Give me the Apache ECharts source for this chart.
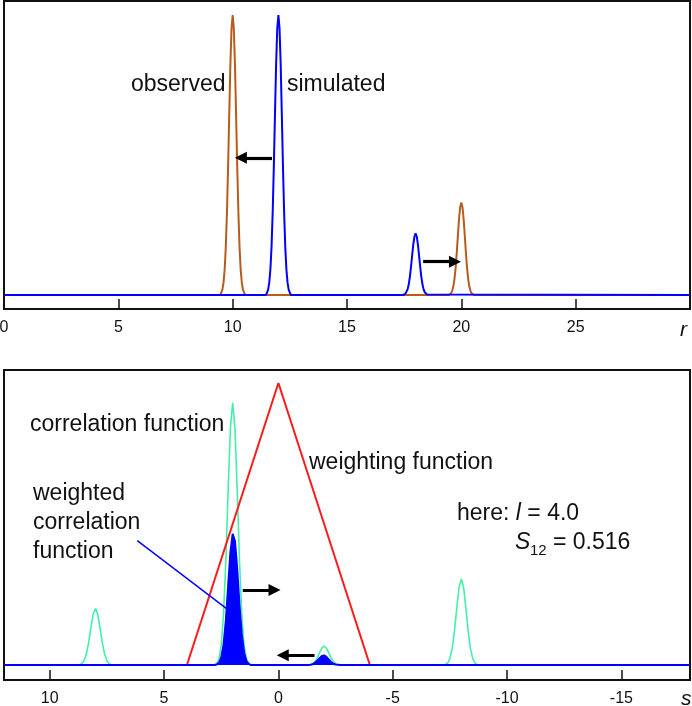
<!DOCTYPE html>
<html>
<head>
<meta charset="utf-8">
<script src="https://cdn.jsdelivr.net/npm/echarts@6/dist/echarts.min.js"></script>
<style>
html,body{margin:0;padding:0;background:#fff;}
#c{width:692px;height:706px;}
</style>
</head>
<body>
<div id="c"></div>
<script>
// ---------- data ----------
const rTicks = [0, 5, 10, 15, 20, 25];
const rTickMarks = [5, 10, 15, 20, 25];
const sTicks = [10, 5, 0, -5, -10, -15];

// top panel: observed (brown) and simulated (blue) distributions, [r, value]
const observed = [
  [0,0],[9.45,0],
  [9.5,0.008],[9.55,0.019],[9.6,0.044],[9.65,0.091],[9.7,0.172],[9.75,0.295],[9.8,0.458],[9.85,0.644],[9.9,0.823],[9.95,0.952],[10,1],
  [10.05,0.952],[10.1,0.823],[10.15,0.644],[10.2,0.458],[10.25,0.295],[10.3,0.172],[10.35,0.091],[10.4,0.044],[10.45,0.019],[10.5,0.008],
  [10.55,0],[19.45,0],
  [19.5,0.003],[19.55,0.006],[19.6,0.015],[19.65,0.030],[19.7,0.057],[19.75,0.097],[19.8,0.151],[19.85,0.213],[19.9,0.272],[19.95,0.314],[20,0.33],
  [20.05,0.314],[20.1,0.272],[20.15,0.213],[20.2,0.151],[20.25,0.097],[20.3,0.057],[20.35,0.030],[20.4,0.015],[20.45,0.006],[20.5,0.003],
  [20.55,0],[30,0]
];
const simulated = [
  [0,0],[11.45,0],
  [11.5,0.008],[11.55,0.019],[11.6,0.044],[11.65,0.091],[11.7,0.172],[11.75,0.295],[11.8,0.458],[11.85,0.644],[11.9,0.823],[11.95,0.952],[12,1],
  [12.05,0.952],[12.1,0.823],[12.15,0.644],[12.2,0.458],[12.25,0.295],[12.3,0.172],[12.35,0.091],[12.4,0.044],[12.45,0.019],[12.5,0.008],
  [12.55,0],[17.45,0],
  [17.5,0.002],[17.55,0.004],[17.6,0.010],[17.65,0.020],[17.7,0.038],[17.75,0.065],[17.8,0.101],[17.85,0.142],[17.9,0.181],[17.95,0.209],[18,0.22],
  [18.05,0.209],[18.1,0.181],[18.15,0.142],[18.2,0.101],[18.25,0.065],[18.3,0.038],[18.35,0.020],[18.4,0.010],[18.45,0.004],[18.5,0.002],
  [18.55,0],[30,0]
];

// bottom panel: correlation (green), weighting (red), weighted correlation (blue), [s, value]
const correlation = [
  [12,0],[8.8,0],
  [8.7,0.001],[8.6,0.005],[8.5,0.015],[8.4,0.038],[8.3,0.079],[8.2,0.132],[8.1,0.180],[8,0.20],
  [7.9,0.180],[7.8,0.132],[7.7,0.079],[7.6,0.038],[7.5,0.015],[7.4,0.005],[7.3,0.001],
  [7.2,0],[2.8,0],
  [2.7,0.006],[2.6,0.022],[2.5,0.071],[2.4,0.178],[2.3,0.367],[2.2,0.616],[2.1,0.839],[2,0.93],
  [1.9,0.839],[1.8,0.616],[1.7,0.367],[1.6,0.178],[1.5,0.071],[1.4,0.022],[1.3,0.006],
  [1.2,0],[-1.3,0],
  [-1.4,0.002],[-1.5,0.005],[-1.6,0.013],[-1.7,0.026],[-1.8,0.044],[-1.9,0.060],[-2,0.067],
  [-2.1,0.060],[-2.2,0.044],[-2.3,0.026],[-2.4,0.013],[-2.5,0.005],[-2.6,0.002],
  [-2.7,0],[-7.2,0],
  [-7.3,0.002],[-7.4,0.007],[-7.5,0.023],[-7.6,0.058],[-7.7,0.120],[-7.8,0.202],[-7.9,0.275],[-8,0.305],
  [-8.1,0.275],[-8.2,0.202],[-8.3,0.120],[-8.4,0.058],[-8.5,0.023],[-8.6,0.007],[-8.7,0.002],
  [-8.8,0],[-18,0]
];
const weighting = [[4,0],[0,1],[-4,0]];
const weighted = [
  [12,0],[2.8,0],
  [2.7,0.002],[2.6,0.008],[2.5,0.027],[2.4,0.071],[2.3,0.156],[2.2,0.277],[2.1,0.399],[2,0.465],
  [1.9,0.440],[1.8,0.339],[1.7,0.211],[1.6,0.107],[1.5,0.044],[1.4,0.014],[1.3,0.004],
  [1.2,0],[-1.3,0],
  [-1.4,0.001],[-1.5,0.003],[-1.6,0.008],[-1.7,0.015],[-1.8,0.024],[-1.9,0.032],[-2,0.034],
  [-2.1,0.029],[-2.2,0.020],[-2.3,0.011],[-2.4,0.005],[-2.5,0.002],[-2.6,0.001],
  [-2.7,0],[-18,0]
];

// annotation arrows / pointer (data coordinates)
const topArrows = [
  [[11.72, 0.49], [10.36, 0.49]],
  [[18.33, 0.119], [19.72, 0.119]]
];
const bottomArrows = [
  [[1.56, 0.266], [0.17, 0.266]],
  [[-1.58, 0.035], [-0.19, 0.035]]
];
const pointer = [[6.17, 0.441], [2.28, 0.201]];

// ---------- chart ----------
const FONT = '"Liberation Sans", Arial, Helvetica, sans-serif';
const TXT = '#111';
const BROWN = '#b85c1e';
const BLUE = '#0000ff';
const GREEN = '#44f0a8';
const RED = '#ff1a1a';

const chart = echarts.init(document.getElementById('c'), null, {renderer: 'canvas'});

function arrowLine(pairs) {
  return {
    silent: true,
    symbol: ['none', 'triangle'],
    symbolSize: [12, 12],
    label: {show: false},
    lineStyle: {color: '#000', width: 3.2, type: 'solid'},
    emphasis: {disabled: true},
    animation: false,
    data: pairs.map(p => [{coord: p[0]}, {coord: p[1]}])
  };
}

function xAxisCommon(extra) {
  return Object.assign({
    type: 'value',
    axisLine: {show: true, onZero: false, lineStyle: {color: '#111', width: 2}},
    splitLine: {show: false}
  }, extra);
}

const LABEL = {color: TXT, fontSize: 16, fontFamily: FONT, margin: 11};
const TICK = {show: true, inside: true, length: 10, lineStyle: {color: '#111', width: 1.5}};

const option = {
  animation: false,
  backgroundColor: '#fff',
  grid: [
    {left: 4, right: 2, top: 1, height: 308, show: true, borderColor: '#111', borderWidth: 2,
      backgroundColor: 'transparent', outerBoundsMode: 'none', containLabel: false},
    {left: 4, right: 2, top: 370, height: 310, show: true, borderColor: '#111', borderWidth: 2,
      backgroundColor: 'transparent', outerBoundsMode: 'none', containLabel: false}
  ],
  xAxis: [
    xAxisCommon({gridIndex: 0, min: 0, max: 30,
      axisTick: Object.assign({customValues: rTickMarks}, TICK),
      axisLabel: Object.assign({customValues: rTicks}, LABEL)}),
    xAxisCommon({gridIndex: 1, min: -18, max: 12, inverse: true,
      axisTick: Object.assign({customValues: sTicks}, TICK),
      axisLabel: Object.assign({customValues: sTicks}, LABEL)})
  ],
  yAxis: [
    {type: 'value', gridIndex: 0, min: -0.05, max: 1.05, show: false},
    {type: 'value', gridIndex: 1, min: -0.053, max: 1.046, show: false}
  ],
  series: [
    {type: 'line', xAxisIndex: 0, yAxisIndex: 0, data: observed, showSymbol: false, silent: true,
      lineStyle: {color: BROWN, width: 2}, z: 2, markLine: arrowLine(topArrows)},
    {type: 'line', xAxisIndex: 0, yAxisIndex: 0, data: simulated, showSymbol: false, silent: true,
      lineStyle: {color: BLUE, width: 2}, z: 3},
    {type: 'line', xAxisIndex: 1, yAxisIndex: 1, data: correlation, showSymbol: false, silent: true,
      lineStyle: {color: GREEN, width: 1.6}, z: 2},
    {type: 'line', xAxisIndex: 1, yAxisIndex: 1, data: weighting, showSymbol: false, silent: true,
      lineStyle: {color: RED, width: 2}, z: 3},
    {type: 'line', xAxisIndex: 1, yAxisIndex: 1, data: weighted, showSymbol: false, silent: true,
      lineStyle: {color: BLUE, width: 2}, areaStyle: {color: BLUE, opacity: 1}, z: 4,
      markLine: arrowLine(bottomArrows)},
    {type: 'line', xAxisIndex: 1, yAxisIndex: 1, data: pointer, showSymbol: false, silent: true,
      lineStyle: {color: BLUE, width: 1.5}, z: 5}
  ],
  graphic: [
    {type: 'text', x: 131, y: 85, style: {text: 'observed', font: '23px ' + FONT, fill: TXT, verticalAlign: 'middle'}},
    {type: 'text', x: 287, y: 85, style: {text: 'simulated', font: '23px ' + FONT, fill: TXT, verticalAlign: 'middle'}},
    {type: 'text', x: 680, y: 330, style: {text: 'r', font: 'italic 21px ' + FONT, fill: TXT, verticalAlign: 'middle'}},
    {type: 'text', x: 30, y: 425, style: {text: 'correlation function', font: '23px ' + FONT, fill: TXT, verticalAlign: 'middle'}},
    {type: 'text', x: 309, y: 463, style: {text: 'weighting function', font: '23px ' + FONT, fill: TXT, verticalAlign: 'middle'}},
    {type: 'text', x: 33, y: 494, style: {text: 'weighted', font: '23px ' + FONT, fill: TXT, verticalAlign: 'middle'}},
    {type: 'text', x: 33, y: 523, style: {text: 'correlation', font: '23px ' + FONT, fill: TXT, verticalAlign: 'middle'}},
    {type: 'text', x: 33, y: 552, style: {text: 'function', font: '23px ' + FONT, fill: TXT, verticalAlign: 'middle'}},
    {type: 'text', x: 457, y: 514, style: {text: '{a|here: }{i|l}{a| = 4.0}', verticalAlign: 'middle',
      rich: {a: {font: '23px ' + FONT, fill: TXT, color: TXT}, i: {font: 'italic 23px ' + FONT, fill: TXT, color: TXT}}}},
    {type: 'text', x: 515, y: 543, style: {text: 'S', font: 'italic 23px ' + FONT, fill: TXT, verticalAlign: 'middle'}},
    {type: 'text', x: 530, y: 551, style: {text: '12', font: '15px ' + FONT, fill: TXT, verticalAlign: 'middle'}},
    {type: 'text', x: 553, y: 543, style: {text: '= 0.516', font: '23px ' + FONT, fill: TXT, verticalAlign: 'middle'}},
    {type: 'text', x: 681, y: 699, style: {text: 's', font: 'italic 21px ' + FONT, fill: TXT, verticalAlign: 'middle'}}
  ]
};
chart.setOption(option);
</script>
</body>
</html>
